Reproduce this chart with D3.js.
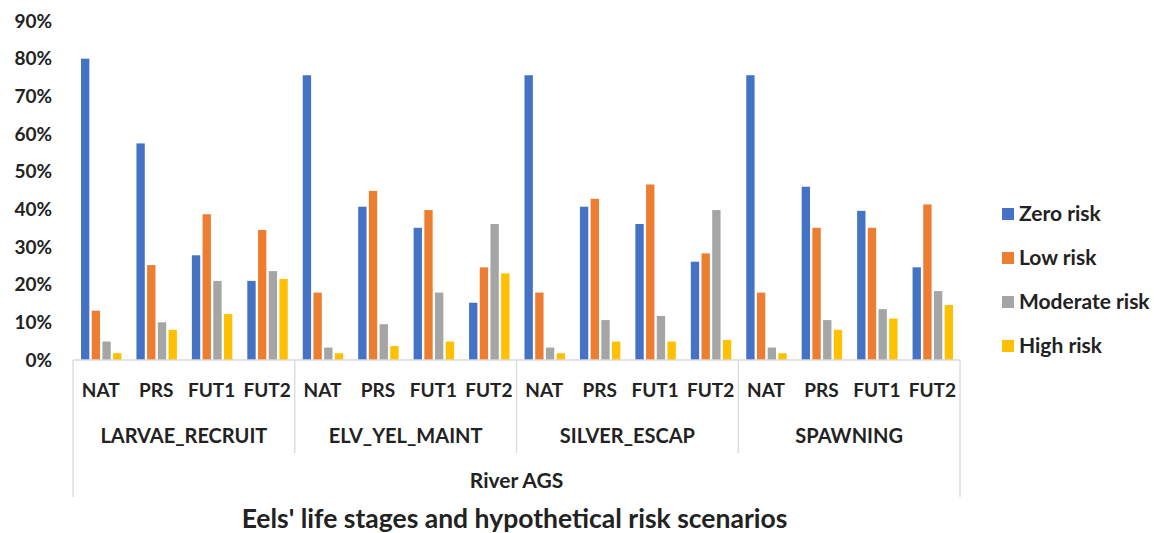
<!DOCTYPE html>
<html>
<head>
<meta charset="utf-8">
<script src="https://cdn.jsdelivr.net/npm/d3@7"></script>
<style>
  html, body { margin: 0; padding: 0; background: #fff; }
  svg text { font-family: Lato, "Open Sans", sans-serif; font-weight: bold; fill: #222; }
</style>
</head>
<body>
<svg id="chart" width="1173" height="533"></svg>
<script>
// Life stages (outer groups) and scenarios (inner categories)
const stages = ["LARVAE_RECRUIT", "ELV_YEL_MAINT", "SILVER_ESCAP", "SPAWNING"];
const scenarios = ["NAT", "PRS", "FUT1", "FUT2"];
const riverLabel = "River AGS";
const axisTitle = "Eels' life stages and hypothetical risk scenarios";

// Risk classes and their colours
const series = ["Zero risk", "Low risk", "Moderate risk", "High risk"];
const colors = ["#4472C4", "#ED7D31", "#A5A5A5", "#FFC000"];

// Share of each risk class (%) per stage, in scenario order NAT, PRS, FUT1, FUT2
const zeroRisk = [80, 57.5, 27.8, 21,   75.6, 40.7, 35.1, 15.2,   75.6, 40.7, 36.1, 26.1,   75.6, 46, 39.6, 24.6];
const lowRisk  = [13.1, 25.2, 38.7, 34.5,   17.9, 44.9, 39.8, 24.6,   17.9, 42.8, 46.6, 28.3,   17.9, 35.1, 35.1, 41.3];
const modRisk  = [4.9, 10, 21, 23.6,   3.3, 9.5, 17.9, 36.1,   3.3, 10.6, 11.7, 39.8,   3.3, 10.6, 13.5, 18.3];
const highRisk = [1.8, 8, 12.2, 21.5,   1.8, 3.7, 4.9, 23,   1.8, 4.9, 4.9, 5.3,   1.8, 8, 11, 14.6];

const yTicks = [0, 10, 20, 30, 40, 50, 60, 70, 80, 90];

const seriesValues = [zeroRisk, lowRisk, modRisk, highRisk];

const cats = [];
stages.forEach(s => scenarios.forEach(c => cats.push({ key: s + "|" + c, stage: s, scenario: c })));

const svg = d3.select("#chart");
const plotLeft = 73, plotRight = 960, plotTop = 20, plotBottom = 360;

const x0 = d3.scaleBand().domain(cats.map(d => d.key)).range([plotLeft, plotRight]).padding(0);
const xs = d3.scaleBand().domain(stages).range([plotLeft, plotRight]).padding(0);
const x1 = d3.scaleBand().domain(series).range([8, x0.bandwidth() - 7]).paddingInner(0.22);
const y = d3.scaleLinear().domain([0, 90]).range([plotBottom, plotTop + 1]);

// Y axis labels
const yAxis = d3.axisLeft(y).tickValues(yTicks).tickFormat(d => d + "%").tickSize(0).tickPadding(0);
const ya = svg.append("g").attr("transform", `translate(${52},0)`).call(yAxis);
ya.select(".domain").remove();
ya.selectAll("text").style("font-size", "19px").style("font-family", "Lato, sans-serif").style("font-weight", "bold").attr("fill", "#222");

// Bars
const bars = svg.append("g");
series.forEach((s, si) => {
  bars.selectAll(null)
    .data(cats.map((c, i) => ({ c, v: seriesValues[si][i] })))
    .join("rect")
    .attr("x", d => x0(d.c.key) + x1(s))
    .attr("width", x1.bandwidth())
    .attr("y", d => y(d.v))
    .attr("height", d => y(0) - y(d.v))
    .attr("fill", colors[si]);
});

// Category axis frame
const lineColor = "#d9d9d9";
const frame = svg.append("g").attr("stroke", lineColor).attr("stroke-width", 1.3);
frame.append("line").attr("x1", plotLeft).attr("x2", plotRight).attr("y1", plotBottom).attr("y2", plotBottom);
frame.append("line").attr("x1", plotLeft).attr("x2", plotLeft).attr("y1", plotBottom).attr("y2", 497);
frame.append("line").attr("x1", plotRight).attr("x2", plotRight).attr("y1", plotBottom).attr("y2", 497);
stages.slice(1).forEach(s => {
  frame.append("line").attr("x1", xs(s)).attr("x2", xs(s)).attr("y1", plotBottom).attr("y2", 453);
});

// Scenario labels
svg.append("g").selectAll("text").data(cats).join("text")
  .attr("x", d => x0(d.key) + x0.bandwidth() / 2)
  .attr("y", 397)
  .attr("text-anchor", "middle")
  .style("font-size", "19px")
  .text(d => d.scenario);

// Stage labels
svg.append("g").selectAll("text").data(stages).join("text")
  .attr("x", d => xs(d) + xs.bandwidth() / 2)
  .attr("y", 443)
  .attr("text-anchor", "middle")
  .style("font-size", "20px")
  .text(d => d);

svg.append("text").attr("x", (plotLeft + plotRight) / 2).attr("y", 488)
  .attr("text-anchor", "middle").style("font-size", "21px").text(riverLabel);

svg.append("text").attr("x", (plotLeft + plotRight) / 2 - 2).attr("y", 528)
  .attr("text-anchor", "middle").style("font-size", "26.5px").attr("fill", "#111").text(axisTitle);

// Legend
const legend = svg.append("g");
const legendY = d3.scalePoint().domain(series).range([214, 346]);
series.forEach((s, i) => {
  legend.append("rect").attr("x", 1002).attr("y", legendY(s) - 6).attr("width", 12).attr("height", 12).attr("fill", colors[i]);
  legend.append("text").attr("x", 1019).attr("y", legendY(s) + 7).style("font-size", "21px").text(s);
});
</script>
</body>
</html>
